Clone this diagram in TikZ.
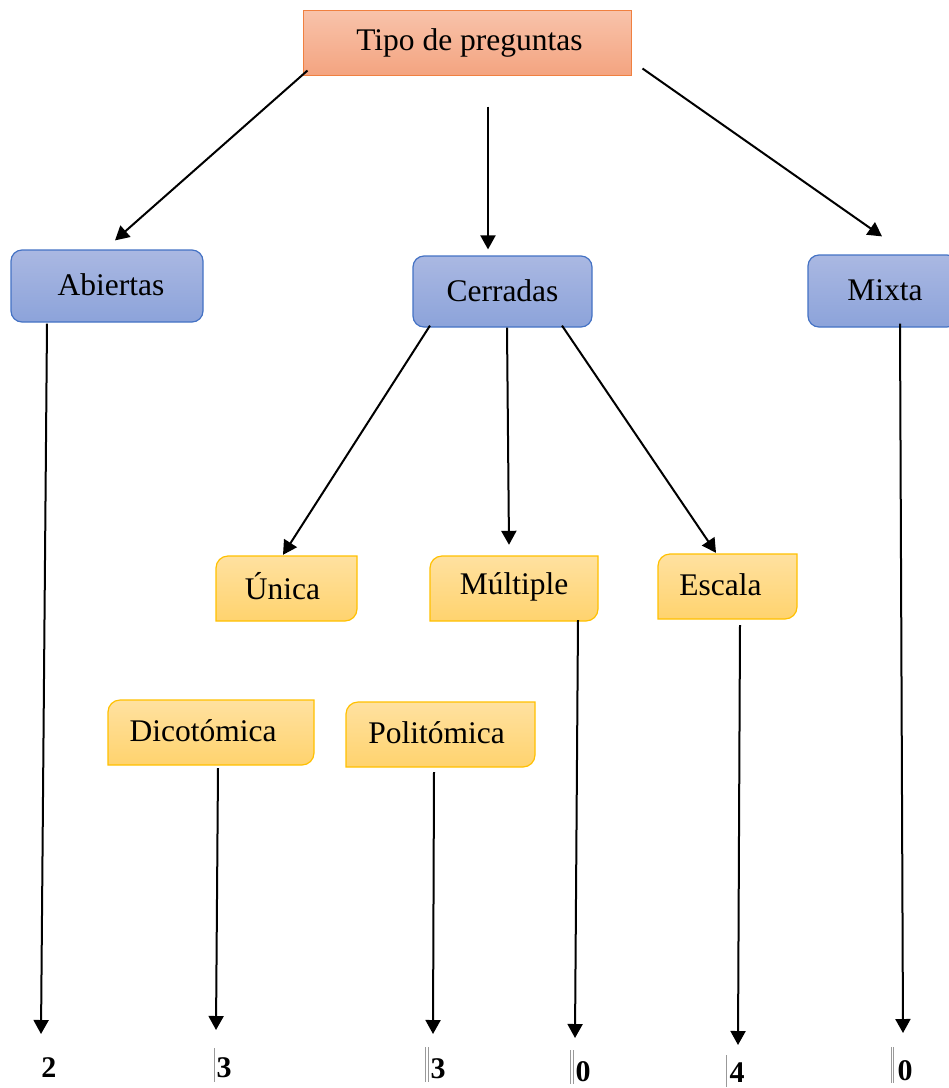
\documentclass[tikz,border=0pt]{standalone}
\usepackage{fontspec}
\setmainfont{Liberation Serif}
\usetikzlibrary{arrows.meta,calc}
\definecolor{oBorder}{HTML}{F08040}
\definecolor{oTop}{HTML}{F8C3AB}
\definecolor{oBot}{HTML}{F4A480}
\definecolor{bBorder}{HTML}{4472C4}
\definecolor{bTop}{HTML}{AAB8E2}
\definecolor{bBot}{HTML}{8CA3DA}
\definecolor{yBorder}{HTML}{FFC000}
\definecolor{yTop}{HTML}{FFE1A0}
\definecolor{yBot}{HTML}{FFD36E}
\newcommand\yelbox[7]{% name, x1, y1, x2, y2, text, text xshift
  \path[yshade] (#2,#5) -- (#2,#3+12) arc[start angle=180,end angle=270,radius=12]
     -- (#4,#3) -- (#4,#5-12) arc[start angle=0,end angle=90,radius=12] -- cycle;
  \node[inner sep=0pt, minimum width={(#4-#2)*1pt}, minimum height={(#5-#3)*1pt}] (#1) at ({(#2+#4)/2},{(#3+#5)/2}) {};
  \node[lbl, xshift=#7pt, yshift=2pt] (#1-t) at (#1.center) {#6};
}
\begin{document}
\begin{tikzpicture}[x=1pt,y=-1pt,
  lbl/.style={font=\fontsize{31.5}{36}\selectfont, text=black, inner sep=0pt},
  orangebox/.style={draw=oBorder, line width=1pt, top color=oTop, bottom color=oBot, lbl},
  bluebox/.style={draw=bBorder, line width=1.2pt, rounded corners=11pt, top color=bTop, bottom color=bBot, lbl},
  yshade/.style={draw=yBorder, line width=1.2pt, top color=yTop, bottom color=yBot},
  arr/.style={line width=2pt, -{Triangle[length=14pt,width=15pt]}},
  num/.style={font=\fontsize{30}{36}\selectfont\bfseries, inner sep=0pt},
  bar/.style={black!40, line width=0.8pt}]
\useasboundingbox (0,0) rectangle (949,1088);

% boxes
\node[orangebox, minimum width=328pt, minimum height=65pt] (tipo) at (467,42.5) {\hspace*{5pt}Tipo de preguntas};
\node[bluebox, minimum width=192pt, minimum height=72pt] (abiertas) at (107,286) {\raisebox{2pt}{\hspace*{8pt}Abiertas}};
\node[bluebox, minimum width=179pt, minimum height=71pt] (cerradas) at (502.5,291.5) {\raisebox{2pt}{Cerradas}};
\node[bluebox, minimum width=150pt, minimum height=72pt] (mixta) at (883,291) {\raisebox{2pt}{\hspace*{4pt}Mixta}};

\yelbox{unica}{216}{556}{357}{621}{Única}{-4}
\yelbox{multiple}{430}{556}{598}{621}{Múltiple}{0}
\yelbox{escala}{658}{554}{797}{619}{Escala}{-7}
\yelbox{dico}{108}{700}{314}{765}{Dicotómica}{-8}
\yelbox{poli}{346}{702}{535}{767}{Politómica}{-4}

% numbers
\node[num] (n1) at (49,1068) {2};
\node[num] (n2) at (224,1068) {3};
\node[num] (n3) at (438,1069) {3};
\node[num] (n4) at (583,1072) {0};
\node[num] (n5) at (737,1073) {4};
\node[num] (n6) at (905,1071) {0};

% free ends
\coordinate (e1) at (41,1034);
\coordinate (e2) at (216,1030);
\coordinate (e3) at (433,1034);
\coordinate (e4) at (575,1038);
\coordinate (e5) at (738,1045);
\coordinate (e6) at (903,1033);

% connectors
\draw[arr] ($(tipo.south west)+(5,-5)$) -- ($(abiertas.north)+(8,-9)$);
\draw[arr] ($(tipo.south)+(21,31)$) -- ($(cerradas.north)+(-14.5,-6)$);
\draw[arr] ($(tipo.south east)+(11,-7)$) -- ($(mixta.north)+(-1,-18)$);
\draw[arr] ($(abiertas.south)+(-60,1)$) -- (e1);
\draw[arr] ($(cerradas.south)+(-72.5,-2)$) -- ($(unica.north)+(-3.5,-1)$);
\draw[arr] ($(cerradas.south)+(4.5,0)$) -- ($(multiple.north)+(-5,-11)$);
\draw[arr] ($(cerradas.south)+(59.5,-2)$) -- ($(escala.north)+(-11.5,-1)$);
\draw[arr] ($(mixta.south)+(17,-4)$) -- (e6);
\draw[arr] ($(dico.south)+(7,3)$) -- (e2);
\draw[arr] ($(poli.south)+(-6.5,5)$) -- (e3);
\draw[arr] ($(multiple.south)+(64,-1)$) -- (e4);
\draw[arr] ($(escala.south)+(12.5,6)$) -- (e5);

% thin marks beside the numbers
\draw[bar] ($(n2.west)+(-2,-20)$) -- ++(0,34);
\draw[bar] ($(n3.west)+(-5,-22)$) -- ++(0,35);
\draw[bar] ($(n3.west)+(-2,-22)$) -- ++(0,35);
\draw[bar] ($(n4.west)+(-5,-22)$) -- ++(0,34);
\draw[bar] ($(n4.west)+(-2,-22)$) -- ++(0,34);
\draw[bar] ($(n5.west)+(-3,-18)$) -- ++(0,32);
\draw[bar] ($(n6.west)+(-6,-24)$) -- ++(0,36);
\draw[bar] ($(n6.west)+(-4,-24)$) -- ++(0,36);
\end{tikzpicture}
\end{document}
